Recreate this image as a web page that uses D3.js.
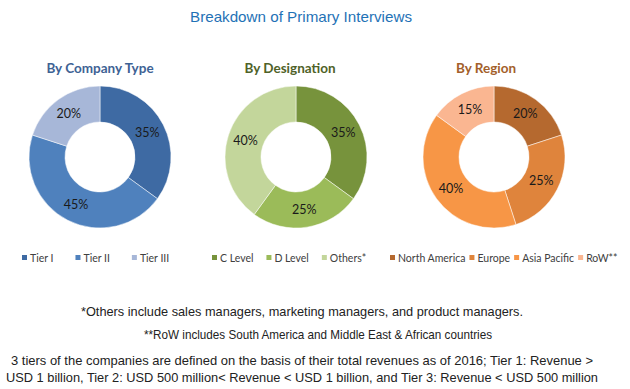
<!doctype html>
<html lang="en">
<head>
<meta charset="utf-8">
<title>Breakdown of Primary Interviews</title>
<script src="https://cdn.jsdelivr.net/npm/d3@7/dist/d3.min.js"></script>
<style>
  body { margin: 0; background: #fff; }
  text { font-family: "Liberation Sans", Arial, sans-serif; }
  .sub { font-family: Lato, "Open Sans", sans-serif; font-weight: bold; font-size: 13.5px; }
  .pct { font-family: Lato, "Open Sans", sans-serif; font-size: 12.5px; fill: #1a1a1a; }
  .leg { font-family: Lato, "Open Sans", sans-serif; font-size: 10.5px; fill: #404040; }
  .note { font-size: 13px; fill: #222; }
</style>
</head>
<body>
<script>
// chart data
var companyTypes = ["Tier I", "Tier II", "Tier III"];
var companyValues = [35, 45, 20];
var designations = ["C Level", "D Level", "Others*"];
var designationValues = [35, 25, 40];
var regions = ["North America", "Europe", "Asia Pacific", "RoW**"];
var regionValues = [20, 25, 40, 15];

var charts = [
    {title: "By Company Type", titleColor: "#3e6294", cats: companyTypes, vals: companyValues,
     colors: ["#3e6aa3", "#4f81bd", "#a7b7d8"], cx: 100, tx: 100, legStart: 22, legGap: 22},
    {title: "By Designation", titleColor: "#4f6228", cats: designations, vals: designationValues,
     colors: ["#77933c", "#9bbb59", "#c3d69b"], cx: 296, tx: 290, legStart: 212, legGap: 13},
    {title: "By Region", titleColor: "#a3602a", cats: regions, vals: regionValues,
     colors: ["#b5692f", "#df843c", "#f79646", "#fab691"], cx: 494, tx: 486, legStart: 390, legGap: 4}
];

var svg = d3.select("body").append("svg")
    .attr("width", 630).attr("height", 389);

svg.append("text")
    .attr("x", 301).attr("y", 22)
    .attr("text-anchor", "middle")
    .attr("textLength", 222).attr("lengthAdjust", "spacingAndGlyphs")
    .style("font-size", "15px")
    .style("fill", "#1f72b6")
    .text("Breakdown of Primary Interviews");

var pie = d3.pie().sort(null).value(function(d){ return d; });
var arc = d3.arc().innerRadius(35).outerRadius(71);
var cy = 157;

charts.forEach(function(c){
    svg.append("text").attr("class", "sub")
        .attr("x", c.tx).attr("y", 73)
        .attr("text-anchor", "middle")
        .style("fill", c.titleColor)
        .text(c.title);

    var g = svg.append("g").attr("transform", "translate(" + c.cx + "," + cy + ")");
    var slices = pie(c.vals);
    g.selectAll("path").data(slices).enter().append("path")
        .attr("d", arc)
        .attr("fill", function(d, i){ return c.colors[i]; })
        .attr("stroke", "#fff").attr("stroke-width", 0.5);
    g.selectAll("text").data(slices).enter().append("text")
        .attr("class", "pct")
        .attr("transform", function(d){ return "translate(" + arc.centroid(d) + ")"; })
        .attr("text-anchor", "middle").attr("dy", "0.35em")
        .text(function(d){ return d.data + "%"; });

    // legend laid out left to right from measured text widths
    var leg = svg.append("g");
    var x = c.legStart;
    c.cats.forEach(function(name, i){
        leg.append("rect")
            .attr("x", x).attr("y", 255)
            .attr("width", 5).attr("height", 5)
            .attr("fill", c.colors[i]);
        var t = leg.append("text").attr("class", "leg")
            .attr("x", x + 8).attr("y", 261.5)
            .text(name);
        x += 8 + t.node().getComputedTextLength() + c.legGap;
    });
});

var notes = [
    {t: "*Others include sales managers, marketing managers, and product managers.", x: 302, y: 316, w: 442},
    {t: "**RoW includes South America and Middle East & African countries", x: 318, y: 339, w: 348},
    {t: "3 tiers of the companies are defined on the basis of their total revenues as of 2016; Tier 1: Revenue >", x: 302, y: 365, w: 582},
    {t: "USD 1 billion, Tier 2: USD 500 million< Revenue < USD 1 billion, and Tier 3: Revenue < USD 500 million", x: 302, y: 382, w: 592}
];
svg.selectAll("text.note").data(notes).enter().append("text")
    .attr("class", "note")
    .attr("x", function(d){ return d.x; }).attr("y", function(d){ return d.y; })
    .attr("text-anchor", "middle")
    .attr("textLength", function(d){ return d.w; })
    .attr("lengthAdjust", "spacingAndGlyphs")
    .text(function(d){ return d.t; });
</script>
</body>
</html>
